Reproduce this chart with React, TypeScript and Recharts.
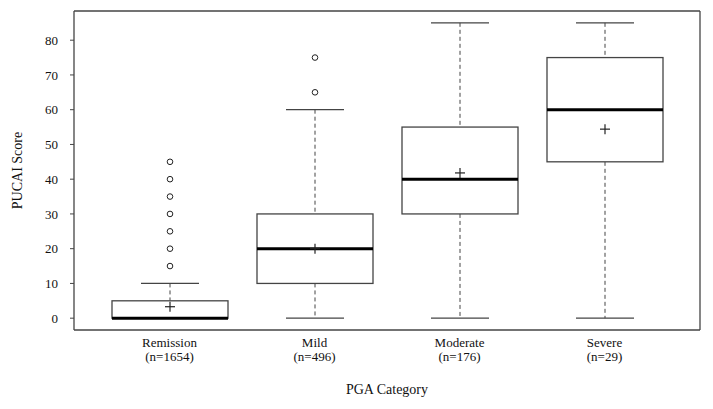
import { ComposedChart, Bar, XAxis, YAxis, Label } from 'recharts';

const categories = ['Remission', 'Mild', 'Moderate', 'Severe'];
const sampleSizes = [1654, 496, 176, 29];
const whiskerLow = [0, 0, 0, 0];
const q1 = [0, 10, 30, 45];
const medians = [0, 20, 40, 60];
const q3 = [5, 30, 55, 75];
const whiskerHigh = [10, 60, 85, 85];
const means = [3.3, 20, 41.8, 54.4];
const outliers = [[15, 20, 25, 30, 35, 40, 45], [65, 75], [], []];
const yTicks = [0, 10, 20, 30, 40, 50, 60, 70, 80];

const data = categories.map((name, i) => ({
  name,
  n: sampleSizes[i],
  range: [whiskerLow[i], whiskerHigh[i]],
  q1: q1[i],
  median: medians[i],
  q3: q3[i],
  mean: means[i],
  outliers: outliers[i],
}));

const FONT = '"Liberation Serif", "Times New Roman", serif';
const INK = '#111';
const LINE = '#444';

// draws one box plot from the range bar's geometry (whisker low .. whisker high)
function BoxShape(props: any) {
  const { x, y, width, height, payload } = props;
  const [lo, hi] = payload.range;
  const h = Math.abs(height);
  const top = Math.min(y, y + height);
  const bottom = top + h;
  const per = h / (hi - lo);
  const toPx = (v: number) => bottom - (v - lo) * per;
  const cx = x + width / 2;
  const left = x;
  const right = x + width;
  const cap = width / 4;

  return (
    <g>
      <line x1={cx} x2={cx} y1={toPx(hi)} y2={toPx(payload.q3)} stroke={LINE} strokeWidth={1} strokeDasharray="4 3" />
      <line x1={cx} x2={cx} y1={toPx(payload.q1)} y2={toPx(lo)} stroke={LINE} strokeWidth={1} strokeDasharray="4 3" />
      <line x1={cx - cap} x2={cx + cap} y1={toPx(hi)} y2={toPx(hi)} stroke={LINE} strokeWidth={1.2} />
      <line x1={cx - cap} x2={cx + cap} y1={toPx(lo)} y2={toPx(lo)} stroke={LINE} strokeWidth={1.2} />
      <rect
        x={left}
        y={toPx(payload.q3)}
        width={width}
        height={toPx(payload.q1) - toPx(payload.q3)}
        fill="#fff"
        stroke={LINE}
        strokeWidth={1.3}
      />
      <line x1={left} x2={right} y1={toPx(payload.median)} y2={toPx(payload.median)} stroke="#000" strokeWidth={3} />
      <line x1={cx - 5} x2={cx + 5} y1={toPx(payload.mean)} y2={toPx(payload.mean)} stroke="#222" strokeWidth={1.2} />
      <line x1={cx} x2={cx} y1={toPx(payload.mean) - 5} y2={toPx(payload.mean) + 5} stroke="#222" strokeWidth={1.2} />
      {payload.outliers.map((v: number, k: number) => (
        <circle key={k} cx={cx} cy={toPx(v)} r={2.8} fill="#fff" stroke="#222" strokeWidth={1} />
      ))}
    </g>
  );
}

function CategoryTick(props: any) {
  const { x, y, payload, index } = props;
  return (
    <g transform={`translate(${x},${y})`}>
      <text textAnchor="middle" fontFamily={FONT} fontSize={13} fill={INK}>
        <tspan x={0} dy={17}>{payload.value}</tspan>
        <tspan x={0} dy={14}>(n={sampleSizes[index]})</tspan>
      </text>
    </g>
  );
}

export default function App() {
  return (
    <div style={{ position: 'absolute', left: 0, top: 0, background: '#fff' }}>
      <ComposedChart width={713} height={409} data={data} margin={{ top: 10, right: 12, left: 0, bottom: 0 }}>
        <XAxis
          dataKey="name"
          height={79}
          padding={{ left: 23, right: 23 }}
          tickLine={false}
          tickSize={0}
          tickMargin={0}
          axisLine={{ stroke: LINE, strokeWidth: 1.3 }}
          tick={<CategoryTick />}
          interval={0}
        >
          <Label
            value="PGA Category"
            position="insideBottom"
            offset={15}
            style={{ fontFamily: FONT, fontSize: 14, fill: INK }}
          />
        </XAxis>
        <XAxis
          xAxisId="top"
          dataKey="name"
          orientation="top"
          height={1}
          tick={false}
          tickLine={false}
          padding={{ left: 23, right: 23 }}
          axisLine={{ stroke: LINE, strokeWidth: 1.3 }}
        />
        <YAxis
          width={74}
          domain={[-3.4, 88.4]}
          ticks={yTicks}
          tickSize={4}
          tickMargin={12}
          tickLine={{ stroke: LINE }}
          axisLine={{ stroke: LINE, strokeWidth: 1.3 }}
          tick={{ fontFamily: FONT, fontSize: 13, fill: INK }}
        >
          <Label
            value="PUCAI Score"
            angle={-90}
            position="insideLeft"
            offset={17}
            style={{ fontFamily: FONT, fontSize: 14, fill: INK, textAnchor: 'middle' }}
          />
        </YAxis>
        <YAxis
          yAxisId="right"
          orientation="right"
          width={1}
          domain={[-3.4, 88.4]}
          tick={false}
          tickLine={false}
          axisLine={{ stroke: LINE, strokeWidth: 1.3 }}
        />
        <Bar dataKey="range" barSize={116} shape={BoxShape} isAnimationActive={false} />
      </ComposedChart>
    </div>
  );
}
